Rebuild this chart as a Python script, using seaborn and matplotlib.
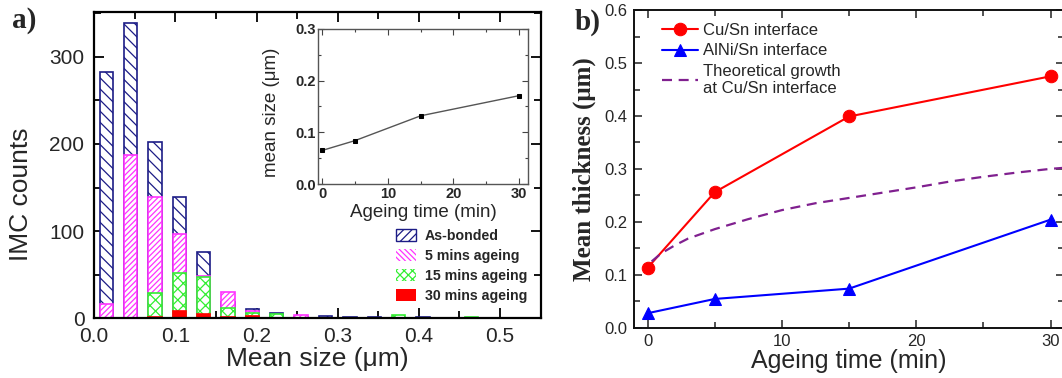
import numpy as np
import pandas as pd
import matplotlib
matplotlib.use("Agg")
import matplotlib.pyplot as plt
import seaborn as sns
from matplotlib.patches import Patch
from matplotlib.ticker import MultipleLocator, FormatStrFormatter

# ---------------- data ----------------
bin_centers = [0.015, 0.045, 0.075, 0.105, 0.135, 0.165, 0.195, 0.225,
               0.255, 0.285, 0.315, 0.345, 0.375, 0.405, 0.435, 0.465]
as_bonded = [282, 339, 202, 139, 76, 19, 11, 6, 2, 3, 2, 2, 0, 2, 0, 0]
mins_5 = [16, 187, 139, 97, 48, 30, 8.5, 0, 4, 0, 0, 0, 0, 0, 0, 0]
mins_15 = [0, 0, 29, 52, 47, 11.5, 6, 5, 0, 0, 0, 0, 4, 0, 0, 1.5]
mins_30 = [0, 0, 1.5, 8.5, 5.5, 1.5, 3, 0, 0, 0, 0, 0, 0, 0, 0, 0]
hist_labels = ["As-bonded", "5 mins ageing", "15 mins ageing", "30 mins ageing"]

inset_time = [0, 5, 15, 30]
inset_size = [0.065, 0.084, 0.132, 0.171]

ageing_time = [0, 5, 15, 30]
cu_sn = [0.113, 0.256, 0.399, 0.475]
alni_sn = [0.027, 0.054, 0.0735, 0.204]
theory_time = [0.3, 1, 2, 3, 5, 7.5, 10, 12.5, 15, 17.5, 20, 22.5, 25, 27.5, 30, 31]
theory_val = [0.125, 0.14, 0.155, 0.168, 0.186, 0.205, 0.222, 0.235, 0.245,
              0.255, 0.265, 0.276, 0.285, 0.293, 0.300, 0.302]
line_labels = ["Cu/Sn interface", "AlNi/Sn interface", "Theoretical growth\nat Cu/Sn interface"]

# ---------------- style ----------------
sns.set_theme(style="ticks")
plt.rcParams["font.family"] = ["Liberation Sans", "DejaVu Sans"]
plt.rcParams["hatch.linewidth"] = 0.9

NAVY = "#1c1c86"
PINK = "#ff33ff"
GREEN = "#33ee33"
RED = "#ff0000"

fig = plt.figure(figsize=(10.62, 3.78), dpi=100)
W, H = 1062.0, 378.0


def axes_px(l, r, t, b):
    return fig.add_axes([l / W, 1 - b / H, (r - l) / W, (b - t) / H])


# ---------------- panel a ----------------
axa = axes_px(94.1, 540.7, 12.3, 318.3)


def draw_bars(ax, vals, face, edge, hatch):
    df = pd.DataFrame({"x": bin_centers, "y": vals})
    df = df[df["y"] > 0]
    sns.barplot(data=df, x="x", y="y", native_scale=True, width=0.55,
                color=face, edgecolor=edge, hatch=hatch, linewidth=1.2,
                saturation=1, errorbar=None, ax=ax)


draw_bars(axa, as_bonded, "white", NAVY, "\\\\\\")
draw_bars(axa, mins_5, "white", PINK, "//////")
draw_bars(axa, mins_15, "white", GREEN, "xxx")
draw_bars(axa, mins_30, RED, RED, None)

axa.set_xlim(0, 0.55)
axa.set_ylim(0, 351)
axa.xaxis.set_major_locator(MultipleLocator(0.1))
axa.xaxis.set_minor_locator(MultipleLocator(0.05))
axa.yaxis.set_major_locator(MultipleLocator(100))
axa.yaxis.set_minor_locator(MultipleLocator(50))
axa.xaxis.set_major_formatter(FormatStrFormatter("%.1f"))
axa.tick_params(which="both", direction="in", top=True, right=True,
                labelsize=15, width=1.3, color="black")
axa.tick_params(which="major", length=7)
axa.tick_params(which="minor", length=5)
axa.tick_params(axis="y", pad=7)
axa.tick_params(axis="x", pad=6)
for s in axa.spines.values():
    s.set_linewidth(1.6)
    s.set_color("black")
axa.set_xlabel("Mean size (μm)", fontsize=19, labelpad=1)
axa.set_ylabel("IMC counts", fontsize=19)
axa.yaxis.set_label_coords(-0.137, 0.406)

handles_a = [
    Patch(facecolor="white", edgecolor=NAVY, hatch="////", linewidth=1.0),
    Patch(facecolor="white", edgecolor=PINK, hatch="\\\\\\\\\\\\", linewidth=0),
    Patch(facecolor="white", edgecolor=GREEN, hatch="xxxx", linewidth=0),
    Patch(facecolor=RED, edgecolor=RED, linewidth=0),
]
leg_a = axa.legend(handles_a, hist_labels, loc="upper left",
                   bbox_to_anchor=(0.675, 0.292), frameon=False,
                   borderpad=0, borderaxespad=0, handlelength=1.45,
                   handleheight=0.9, handletextpad=0.6, labelspacing=0.42,
                   prop={"weight": "bold", "size": 10.2})

# inset
axi = axes_px(318.3, 528.3, 29, 184)
sns.lineplot(x=inset_time, y=inset_size, ax=axi, color="#555555", linewidth=1.0,
             marker="s", markersize=3.5, markerfacecolor="black",
             markeredgecolor="black")
axi.set_xlim(-0.6, 31.4)
axi.set_ylim(0, 0.3)
axi.xaxis.set_major_locator(MultipleLocator(10))
axi.xaxis.set_minor_locator(MultipleLocator(5))
axi.yaxis.set_major_locator(MultipleLocator(0.1))
axi.yaxis.set_minor_locator(MultipleLocator(0.05))
axi.yaxis.set_major_formatter(FormatStrFormatter("%.1f"))
axi.tick_params(which="both", direction="in", top=True, right=True,
                labelsize=10.5, width=0.8, color="#444444", pad=2)
axi.tick_params(which="major", length=4)
axi.tick_params(which="minor", length=2.5)
for lab in axi.get_xticklabels() + axi.get_yticklabels():
    lab.set_fontweight("bold")
for s in axi.spines.values():
    s.set_linewidth(1.0)
    s.set_color("#555555")
axi.set_xlabel("Ageing time (min)", fontsize=13.5, labelpad=2)
axi.set_ylabel("mean size (μm)", fontsize=13.5)
axi.yaxis.set_label_coords(-0.182, 0.465)

fig.text(12 / W, 1 - 21 / H, "a)", fontsize=21, fontweight="bold",
         family="Liberation Serif", va="center", ha="left")

# ---------------- panel b ----------------
axb = axes_px(634.2, 1064.0, 10.2, 327.5)
sns.lineplot(x=ageing_time, y=cu_sn, ax=axb, color=RED, linewidth=1.5,
             marker="o", markersize=9, markeredgecolor=RED, label=line_labels[0])
sns.lineplot(x=ageing_time, y=alni_sn, ax=axb, color="#0000ff", linewidth=1.5,
             marker="^", markersize=9, markeredgecolor="#0000ff", label=line_labels[1])
sns.lineplot(x=theory_time, y=theory_val, ax=axb, color="#80208f", linewidth=1.6,
             linestyle=(0, (4.5, 3)), label=line_labels[2])
axb.set_xlim(-1, 31)
axb.set_ylim(0, 0.6)
axb.xaxis.set_major_locator(MultipleLocator(10))
axb.xaxis.set_minor_locator(MultipleLocator(5))
axb.yaxis.set_major_locator(MultipleLocator(0.1))
axb.yaxis.set_minor_locator(MultipleLocator(0.05))
axb.yaxis.set_major_formatter(FormatStrFormatter("%.1f"))
axb.tick_params(which="both", direction="in", top=True, right=True,
                labelsize=12, width=1.1, color="#222222", pad=5)
axb.tick_params(which="major", length=6)
axb.tick_params(which="minor", length=4)
for s in axb.spines.values():
    s.set_linewidth(1.4)
    s.set_color("#111111")
axb.set_xlabel("Ageing time (min)", fontsize=18, labelpad=0)
axb.set_ylabel("Mean thickness (μm)", fontsize=18, fontweight="bold",
               family="Liberation Serif", labelpad=6)
axb.legend(loc="upper left", bbox_to_anchor=(0.064, 0.96), frameon=False,
           borderpad=0, borderaxespad=0, handlelength=2.2, handletextpad=0.3,
           labelspacing=0.33, fontsize=12)

fig.text(575 / W, 1 - 22 / H, "b)", fontsize=21, fontweight="bold",
         family="Liberation Serif", va="center", ha="left")

fig.savefig("out.png", dpi=100)
